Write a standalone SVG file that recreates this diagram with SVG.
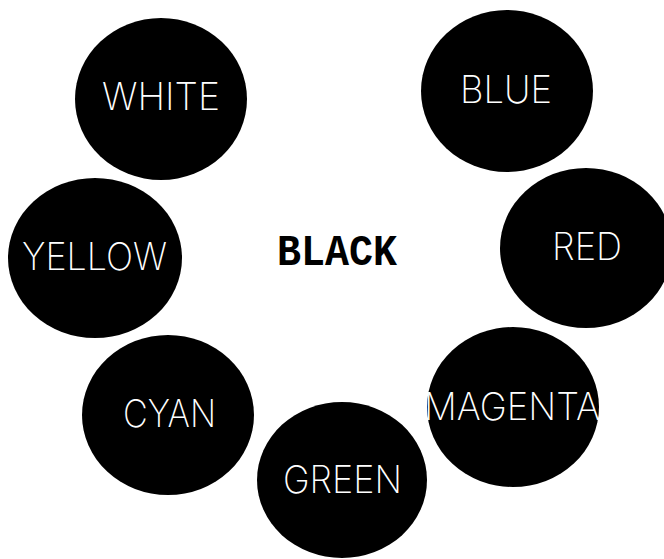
<svg xmlns="http://www.w3.org/2000/svg" width="664" height="559" viewBox="0 0 664 559">
<style>
.disc{fill:#000}
.lbl{fill:#fff;font-family:"Inter","Liberation Sans",sans-serif;font-size:38px;font-weight:200}
.center{fill:#000;font-family:"Liberation Mono","DejaVu Sans Mono",monospace;font-size:44px;font-weight:bold}
</style>
<rect width="664" height="559" fill="#fff"/>
<g id="connectors"/>
<g id="white"><ellipse class="disc" cx="161" cy="99" rx="86" ry="81"/><text class="lbl" x="102" y="110" textLength="118" lengthAdjust="spacingAndGlyphs">WHITE</text></g>
<g id="blue"><ellipse class="disc" cx="507" cy="91" rx="86" ry="81"/><text class="lbl" x="460" y="103" textLength="92" lengthAdjust="spacingAndGlyphs">BLUE</text></g>
<g id="yellow"><ellipse class="disc" cx="95" cy="258" rx="87" ry="80"/><text class="lbl" x="22" y="270" textLength="145" lengthAdjust="spacingAndGlyphs">YELLOW</text></g>
<g id="red"><ellipse class="disc" cx="586" cy="248" rx="86" ry="80"/><text class="lbl" x="552" y="260" textLength="70" lengthAdjust="spacingAndGlyphs">RED</text></g>
<g id="cyan"><ellipse class="disc" cx="168" cy="415" rx="86" ry="80"/><text class="lbl" x="123" y="427" textLength="93" lengthAdjust="spacingAndGlyphs">CYAN</text></g>
<g id="magenta"><ellipse class="disc" cx="513" cy="407" rx="86" ry="80"/><text class="lbl" x="424" y="420" textLength="176" lengthAdjust="spacingAndGlyphs">MAGENTA</text></g>
<g id="green"><ellipse class="disc" cx="342" cy="480" rx="85" ry="78"/><text class="lbl" x="283" y="493" textLength="119" lengthAdjust="spacingAndGlyphs">GREEN</text></g>
<g id="black"><text class="center" x="277" y="265" textLength="120" lengthAdjust="spacingAndGlyphs">BLACK</text></g>
</svg>
